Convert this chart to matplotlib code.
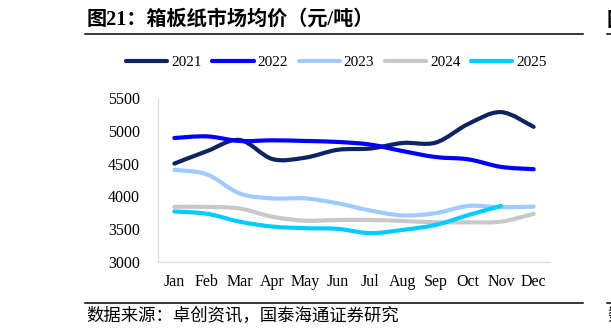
import matplotlib.pyplot as plt
from matplotlib.path import Path
from matplotlib.patches import PathPatch
from matplotlib.lines import Line2D

plt.rcParams['font.family'] = ['Liberation Serif', 'Noto Sans CJK SC']

months = ["Jan", "Feb", "Mar", "Apr", "May", "Jun", "Jul", "Aug", "Sep", "Oct", "Nov", "Dec"]
price_2021 = [4500, 4690, 4860, 4570, 4590, 4710, 4730, 4815, 4820, 5105, 5285, 5060]
price_2022 = [4890, 4915, 4845, 4855, 4845, 4830, 4790, 4690, 4600, 4565, 4450, 4415]
price_2023 = [4405, 4335, 4045, 3970, 3970, 3895, 3785, 3710, 3745, 3855, 3835, 3845]
price_2024 = [3840, 3840, 3815, 3690, 3630, 3640, 3640, 3625, 3605, 3605, 3615, 3735]
price_2025 = [3770, 3735, 3615, 3540, 3515, 3505, 3440, 3490, 3565, 3715, 3855]
years = ["2021", "2022", "2023", "2024", "2025"]
colors = ["#0d2461", "#0000ff", "#9fcbff", "#c8c8c8", "#00ccff"]


def smooth_path(ys):
    # Excel-style smoothed line: cubic bezier through each point
    xs = list(range(len(ys)))
    pts = list(zip(xs, ys))
    verts = [pts[0]]
    codes = [Path.MOVETO]
    n = len(pts)
    for i in range(n - 1):
        p0 = pts[i - 1] if i > 0 else pts[i]
        p1 = pts[i]
        p2 = pts[i + 1]
        p3 = pts[i + 2] if i + 2 < n else pts[i + 1]
        c1 = (p1[0] + (p2[0] - p0[0]) / 6, p1[1] + (p2[1] - p0[1]) / 6)
        c2 = (p2[0] - (p3[0] - p1[0]) / 6, p2[1] - (p3[1] - p1[1]) / 6)
        verts += [c1, c2, p2]
        codes += [Path.CURVE4] * 3
    return Path(verts, codes)


fig = plt.figure(figsize=(6.11, 3.36), dpi=100)
ax = fig.add_axes([158 / 611, 1 - 262 / 336, 392 / 611, 164 / 336])

series = [price_2021, price_2022, price_2023, price_2024, price_2025]
handles = []
for ys, c, lab in zip(series, colors, years):
    patch = PathPatch(smooth_path(ys), facecolor='none', edgecolor=c, lw=3.0,
                      capstyle='round', joinstyle='round')
    ax.add_patch(patch)
    handles.append(Line2D([], [], color=c, lw=3.0, solid_capstyle='round', label=lab))

ax.set_xlim(-0.5, 11.5)
ax.set_ylim(3000, 5500)
ax.set_yticks([3000, 3500, 4000, 4500, 5000, 5500])
ax.set_xticks(range(12))
ax.set_xticklabels(months)
ax.tick_params(axis='both', length=0, labelsize=11.5)
ax.tick_params(axis='x', pad=9)
ax.tick_params(axis='y', pad=13)
for s in ['top', 'right']:
    ax.spines[s].set_visible(False)
for s in ['left', 'bottom']:
    ax.spines[s].set_color('#d9d9d9')
    ax.spines[s].set_linewidth(0.8)

fig.legend(handles=handles, loc='center', bbox_to_anchor=(336.5 / 611, 1 - 62 / 336),
           ncol=5, frameon=False, fontsize=11, handlelength=2.7,
           handletextpad=0.25, columnspacing=0.7)

# title and rules
fig.text(87 / 611, 1 - 20 / 336, "图21：箱板纸市场均价（元/吨）", fontsize=14.5, fontweight='bold',
         family=['Liberation Serif', 'Noto Sans CJK SC'], va='center', ha='left')
fig.add_artist(Line2D([85 / 611, 583 / 611], [1 - 34 / 336] * 2, color='black', lw=1.1))
fig.add_artist(Line2D([85 / 611, 583 / 611], [1 - 303 / 336] * 2, color='black', lw=1.1))
fig.text(86 / 611, 1 - 316 / 336, "数据来源：卓创资讯，国泰海通证券研究", fontsize=12.5,
         family=['Noto Sans CJK SC'], va='center', ha='left')

# fragments of the neighbouring chart at the right edge
fig.add_artist(Line2D([607 / 611, 1.0], [1 - 34 / 336] * 2, color='black', lw=1.1))
fig.add_artist(Line2D([607 / 611, 1.0], [1 - 303 / 336] * 2, color='black', lw=1.1))
fig.text(607 / 611, 1 - 20 / 336, "图", fontsize=14.5, fontweight='bold',
         family=['Noto Sans CJK SC'], va='center', ha='left')
fig.text(607 / 611, 1 - 316 / 336, "数", fontsize=12.5,
         family=['Noto Sans CJK SC'], va='center', ha='left')

fig.savefig("out.png", dpi=100)
